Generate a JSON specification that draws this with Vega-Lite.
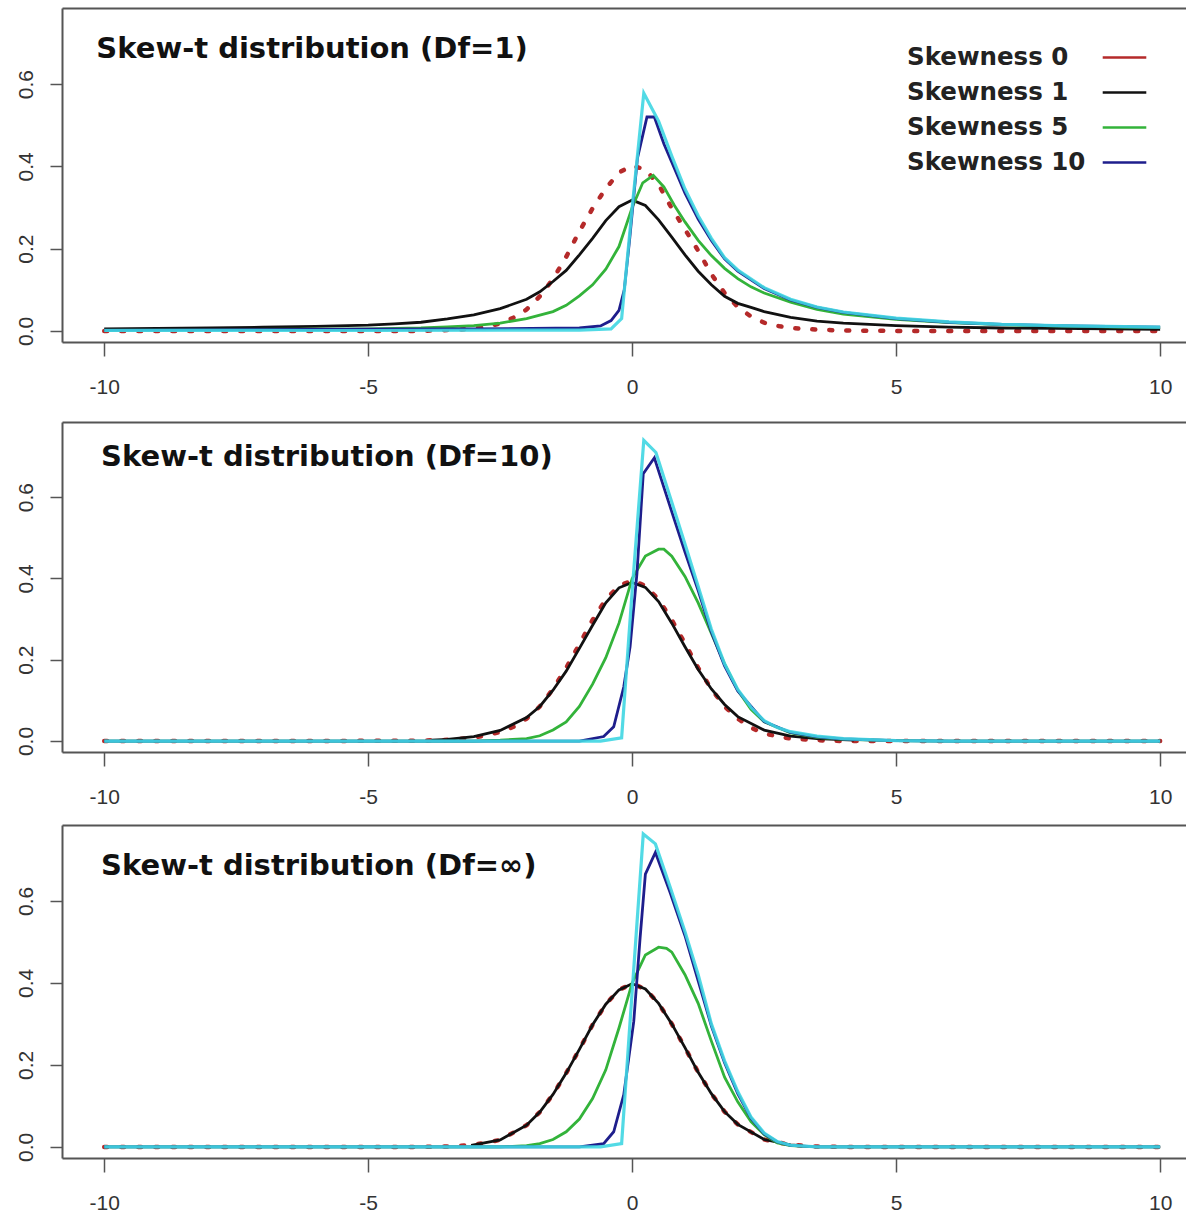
{
"$schema": "https://vega.github.io/schema/vega-lite/v6.json",
"background": "white",
"padding": {"left": 14, "top": 8, "right": 0, "bottom": 0},
"datasets": {
"p1": [
{"s":"Skewness 0","x":-10,"y":0},{"s":"Skewness 0","x":-8,"y":0},{"s":"Skewness 0","x":-6,"y":0},{"s":"Skewness 0","x":-4,"y":0},{"s":"Skewness 0","x":-3.25,"y":0.003},{"s":"Skewness 0","x":-2.75,"y":0.01},{"s":"Skewness 0","x":-2.5,"y":0.018},{"s":"Skewness 0","x":-2.25,"y":0.032},{"s":"Skewness 0","x":-2,"y":0.052},{"s":"Skewness 0","x":-1.75,"y":0.084},{"s":"Skewness 0","x":-1.5,"y":0.126},{"s":"Skewness 0","x":-1.25,"y":0.18},{"s":"Skewness 0","x":-1,"y":0.242},{"s":"Skewness 0","x":-0.75,"y":0.298},{"s":"Skewness 0","x":-0.5,"y":0.346},{"s":"Skewness 0","x":-0.25,"y":0.385},{"s":"Skewness 0","x":0,"y":0.402},{"s":"Skewness 0","x":0.25,"y":0.392},{"s":"Skewness 0","x":0.5,"y":0.356},{"s":"Skewness 0","x":0.75,"y":0.298},{"s":"Skewness 0","x":1,"y":0.247},{"s":"Skewness 0","x":1.25,"y":0.195},{"s":"Skewness 0","x":1.5,"y":0.138},{"s":"Skewness 0","x":1.75,"y":0.092},{"s":"Skewness 0","x":2,"y":0.058},{"s":"Skewness 0","x":2.25,"y":0.035},{"s":"Skewness 0","x":2.5,"y":0.02},{"s":"Skewness 0","x":2.75,"y":0.012},{"s":"Skewness 0","x":3,"y":0.007},{"s":"Skewness 0","x":3.5,"y":0.003},{"s":"Skewness 0","x":4,"y":0.001},{"s":"Skewness 0","x":5,"y":0},{"s":"Skewness 0","x":6,"y":0},{"s":"Skewness 0","x":8,"y":0},{"s":"Skewness 0","x":10,"y":0},
{"s":"Skewness 1","x":-10,"y":0.005},{"s":"Skewness 1","x":-9,"y":0.006},{"s":"Skewness 1","x":-8,"y":0.007},{"s":"Skewness 1","x":-7,"y":0.009},{"s":"Skewness 1","x":-6,"y":0.011},{"s":"Skewness 1","x":-5,"y":0.014},{"s":"Skewness 1","x":-4.5,"y":0.017},{"s":"Skewness 1","x":-4,"y":0.021},{"s":"Skewness 1","x":-3.5,"y":0.029},{"s":"Skewness 1","x":-3,"y":0.039},{"s":"Skewness 1","x":-2.5,"y":0.054},{"s":"Skewness 1","x":-2,"y":0.077},{"s":"Skewness 1","x":-1.75,"y":0.095},{"s":"Skewness 1","x":-1.5,"y":0.12},{"s":"Skewness 1","x":-1.25,"y":0.147},{"s":"Skewness 1","x":-1,"y":0.185},{"s":"Skewness 1","x":-0.75,"y":0.225},{"s":"Skewness 1","x":-0.5,"y":0.268},{"s":"Skewness 1","x":-0.25,"y":0.302},{"s":"Skewness 1","x":0,"y":0.318},{"s":"Skewness 1","x":0.25,"y":0.305},{"s":"Skewness 1","x":0.5,"y":0.27},{"s":"Skewness 1","x":0.75,"y":0.228},{"s":"Skewness 1","x":1,"y":0.185},{"s":"Skewness 1","x":1.25,"y":0.145},{"s":"Skewness 1","x":1.5,"y":0.112},{"s":"Skewness 1","x":1.75,"y":0.084},{"s":"Skewness 1","x":2,"y":0.067},{"s":"Skewness 1","x":2.25,"y":0.057},{"s":"Skewness 1","x":2.5,"y":0.047},{"s":"Skewness 1","x":3,"y":0.033},{"s":"Skewness 1","x":3.5,"y":0.024},{"s":"Skewness 1","x":4,"y":0.019},{"s":"Skewness 1","x":5,"y":0.013},{"s":"Skewness 1","x":6,"y":0.009},{"s":"Skewness 1","x":7,"y":0.007},{"s":"Skewness 1","x":8,"y":0.006},{"s":"Skewness 1","x":9,"y":0.005},{"s":"Skewness 1","x":10,"y":0.004},
{"s":"Skewness 5","x":-10,"y":0.002},{"s":"Skewness 5","x":-8,"y":0.003},{"s":"Skewness 5","x":-6,"y":0.004},{"s":"Skewness 5","x":-5,"y":0.005},{"s":"Skewness 5","x":-4,"y":0.007},{"s":"Skewness 5","x":-3.5,"y":0.01},{"s":"Skewness 5","x":-3,"y":0.013},{"s":"Skewness 5","x":-2.5,"y":0.019},{"s":"Skewness 5","x":-2,"y":0.03},{"s":"Skewness 5","x":-1.5,"y":0.047},{"s":"Skewness 5","x":-1.25,"y":0.062},{"s":"Skewness 5","x":-1,"y":0.085},{"s":"Skewness 5","x":-0.75,"y":0.112},{"s":"Skewness 5","x":-0.5,"y":0.15},{"s":"Skewness 5","x":-0.25,"y":0.205},{"s":"Skewness 5","x":0,"y":0.3},{"s":"Skewness 5","x":0.2,"y":0.36},{"s":"Skewness 5","x":0.4,"y":0.378},{"s":"Skewness 5","x":0.6,"y":0.35},{"s":"Skewness 5","x":0.8,"y":0.305},{"s":"Skewness 5","x":1,"y":0.265},{"s":"Skewness 5","x":1.25,"y":0.22},{"s":"Skewness 5","x":1.5,"y":0.183},{"s":"Skewness 5","x":1.75,"y":0.152},{"s":"Skewness 5","x":2,"y":0.127},{"s":"Skewness 5","x":2.25,"y":0.107},{"s":"Skewness 5","x":2.5,"y":0.092},{"s":"Skewness 5","x":3,"y":0.07},{"s":"Skewness 5","x":3.5,"y":0.052},{"s":"Skewness 5","x":4,"y":0.041},{"s":"Skewness 5","x":5,"y":0.028},{"s":"Skewness 5","x":6,"y":0.02},{"s":"Skewness 5","x":7,"y":0.015},{"s":"Skewness 5","x":8,"y":0.012},{"s":"Skewness 5","x":9,"y":0.01},{"s":"Skewness 5","x":10,"y":0.008},
{"s":"Skewness 10","x":-10,"y":0.002},{"s":"Skewness 10","x":-7,"y":0.003},{"s":"Skewness 10","x":-5,"y":0.004},{"s":"Skewness 10","x":-3,"y":0.005},{"s":"Skewness 10","x":-1,"y":0.007},{"s":"Skewness 10","x":-0.6,"y":0.012},{"s":"Skewness 10","x":-0.4,"y":0.025},{"s":"Skewness 10","x":-0.25,"y":0.05},{"s":"Skewness 10","x":-0.15,"y":0.1},{"s":"Skewness 10","x":-0.05,"y":0.22},{"s":"Skewness 10","x":0.1,"y":0.42},{"s":"Skewness 10","x":0.28,"y":0.52},{"s":"Skewness 10","x":0.42,"y":0.52},{"s":"Skewness 10","x":0.6,"y":0.455},{"s":"Skewness 10","x":0.75,"y":0.41},{"s":"Skewness 10","x":1,"y":0.335},{"s":"Skewness 10","x":1.25,"y":0.272},{"s":"Skewness 10","x":1.5,"y":0.22},{"s":"Skewness 10","x":1.75,"y":0.175},{"s":"Skewness 10","x":2,"y":0.145},{"s":"Skewness 10","x":2.5,"y":0.103},{"s":"Skewness 10","x":3,"y":0.075},{"s":"Skewness 10","x":3.5,"y":0.057},{"s":"Skewness 10","x":4,"y":0.045},{"s":"Skewness 10","x":5,"y":0.03},{"s":"Skewness 10","x":6,"y":0.021},{"s":"Skewness 10","x":7,"y":0.016},{"s":"Skewness 10","x":8,"y":0.013},{"s":"Skewness 10","x":9,"y":0.011},{"s":"Skewness 10","x":10,"y":0.009},
{"s":"unlabelled","x":-10,"y":0.001},{"s":"unlabelled","x":-5,"y":0.001},{"s":"unlabelled","x":-1,"y":0.002},{"s":"unlabelled","x":-0.4,"y":0.005},{"s":"unlabelled","x":-0.2,"y":0.03},{"s":"unlabelled","x":0,"y":0.3},{"s":"unlabelled","x":0.22,"y":0.578},{"s":"unlabelled","x":0.5,"y":0.51},{"s":"unlabelled","x":0.75,"y":0.425},{"s":"unlabelled","x":1,"y":0.345},{"s":"unlabelled","x":1.25,"y":0.28},{"s":"unlabelled","x":1.5,"y":0.225},{"s":"unlabelled","x":1.75,"y":0.178},{"s":"unlabelled","x":2,"y":0.148},{"s":"unlabelled","x":2.5,"y":0.105},{"s":"unlabelled","x":3,"y":0.077},{"s":"unlabelled","x":3.5,"y":0.058},{"s":"unlabelled","x":4,"y":0.046},{"s":"unlabelled","x":5,"y":0.031},{"s":"unlabelled","x":6,"y":0.022},{"s":"unlabelled","x":7,"y":0.016},{"s":"unlabelled","x":8,"y":0.013},{"s":"unlabelled","x":9,"y":0.011},{"s":"unlabelled","x":10,"y":0.009}
],
"p2": [
{"s":"Skewness 0","x":-10,"y":0},{"s":"Skewness 0","x":-8,"y":0},{"s":"Skewness 0","x":-6,"y":0},{"s":"Skewness 0","x":-4,"y":0.001},{"s":"Skewness 0","x":-3.5,"y":0.003},{"s":"Skewness 0","x":-3,"y":0.008},{"s":"Skewness 0","x":-2.5,"y":0.022},{"s":"Skewness 0","x":-2.25,"y":0.035},{"s":"Skewness 0","x":-2,"y":0.055},{"s":"Skewness 0","x":-1.75,"y":0.085},{"s":"Skewness 0","x":-1.5,"y":0.128},{"s":"Skewness 0","x":-1.25,"y":0.18},{"s":"Skewness 0","x":-1,"y":0.238},{"s":"Skewness 0","x":-0.75,"y":0.298},{"s":"Skewness 0","x":-0.5,"y":0.348},{"s":"Skewness 0","x":-0.25,"y":0.382},{"s":"Skewness 0","x":0,"y":0.395},{"s":"Skewness 0","x":0.25,"y":0.382},{"s":"Skewness 0","x":0.5,"y":0.348},{"s":"Skewness 0","x":0.75,"y":0.298},{"s":"Skewness 0","x":1,"y":0.24},{"s":"Skewness 0","x":1.25,"y":0.18},{"s":"Skewness 0","x":1.5,"y":0.128},{"s":"Skewness 0","x":1.75,"y":0.085},{"s":"Skewness 0","x":2,"y":0.055},{"s":"Skewness 0","x":2.25,"y":0.033},{"s":"Skewness 0","x":2.5,"y":0.018},{"s":"Skewness 0","x":3,"y":0.006},{"s":"Skewness 0","x":3.5,"y":0.002},{"s":"Skewness 0","x":4,"y":0},{"s":"Skewness 0","x":6,"y":0},{"s":"Skewness 0","x":8,"y":0},{"s":"Skewness 0","x":10,"y":0},
{"s":"Skewness 1","x":-3.8,"y":0.002},{"s":"Skewness 1","x":-3.5,"y":0.004},{"s":"Skewness 1","x":-3,"y":0.011},{"s":"Skewness 1","x":-2.5,"y":0.026},{"s":"Skewness 1","x":-2,"y":0.058},{"s":"Skewness 1","x":-1.75,"y":0.085},{"s":"Skewness 1","x":-1.5,"y":0.125},{"s":"Skewness 1","x":-1.25,"y":0.172},{"s":"Skewness 1","x":-1,"y":0.228},{"s":"Skewness 1","x":-0.75,"y":0.285},{"s":"Skewness 1","x":-0.5,"y":0.34},{"s":"Skewness 1","x":-0.25,"y":0.377},{"s":"Skewness 1","x":0,"y":0.39},{"s":"Skewness 1","x":0.25,"y":0.378},{"s":"Skewness 1","x":0.5,"y":0.343},{"s":"Skewness 1","x":0.75,"y":0.29},{"s":"Skewness 1","x":1,"y":0.232},{"s":"Skewness 1","x":1.25,"y":0.176},{"s":"Skewness 1","x":1.5,"y":0.128},{"s":"Skewness 1","x":1.75,"y":0.09},{"s":"Skewness 1","x":2,"y":0.06},{"s":"Skewness 1","x":2.5,"y":0.027},{"s":"Skewness 1","x":3,"y":0.012},{"s":"Skewness 1","x":3.5,"y":0.006},{"s":"Skewness 1","x":4.2,"y":0.002},
{"s":"Skewness 5","x":-10,"y":0},{"s":"Skewness 5","x":-6,"y":0},{"s":"Skewness 5","x":-3,"y":0},{"s":"Skewness 5","x":-2.5,"y":0.002},{"s":"Skewness 5","x":-2,"y":0.006},{"s":"Skewness 5","x":-1.75,"y":0.013},{"s":"Skewness 5","x":-1.5,"y":0.027},{"s":"Skewness 5","x":-1.25,"y":0.047},{"s":"Skewness 5","x":-1,"y":0.085},{"s":"Skewness 5","x":-0.75,"y":0.14},{"s":"Skewness 5","x":-0.5,"y":0.205},{"s":"Skewness 5","x":-0.25,"y":0.29},{"s":"Skewness 5","x":0,"y":0.4},{"s":"Skewness 5","x":0.25,"y":0.455},{"s":"Skewness 5","x":0.5,"y":0.472},{"s":"Skewness 5","x":0.6,"y":0.472},{"s":"Skewness 5","x":0.75,"y":0.455},{"s":"Skewness 5","x":1,"y":0.405},{"s":"Skewness 5","x":1.25,"y":0.34},{"s":"Skewness 5","x":1.5,"y":0.265},{"s":"Skewness 5","x":1.75,"y":0.19},{"s":"Skewness 5","x":2,"y":0.125},{"s":"Skewness 5","x":2.25,"y":0.078},{"s":"Skewness 5","x":2.5,"y":0.047},{"s":"Skewness 5","x":3,"y":0.02},{"s":"Skewness 5","x":3.5,"y":0.009},{"s":"Skewness 5","x":4,"y":0.004},{"s":"Skewness 5","x":5,"y":0.001},{"s":"Skewness 5","x":6,"y":0},{"s":"Skewness 5","x":10,"y":0},
{"s":"Skewness 10","x":-10,"y":0},{"s":"Skewness 10","x":-5,"y":0},{"s":"Skewness 10","x":-1,"y":0},{"s":"Skewness 10","x":-0.54,"y":0.011},{"s":"Skewness 10","x":-0.35,"y":0.035},{"s":"Skewness 10","x":-0.16,"y":0.133},{"s":"Skewness 10","x":-0.04,"y":0.232},{"s":"Skewness 10","x":0.09,"y":0.412},{"s":"Skewness 10","x":0.21,"y":0.658},{"s":"Skewness 10","x":0.42,"y":0.697},{"s":"Skewness 10","x":0.72,"y":0.576},{"s":"Skewness 10","x":1,"y":0.465},{"s":"Skewness 10","x":1.25,"y":0.37},{"s":"Skewness 10","x":1.5,"y":0.268},{"s":"Skewness 10","x":1.75,"y":0.185},{"s":"Skewness 10","x":2,"y":0.123},{"s":"Skewness 10","x":2.5,"y":0.048},{"s":"Skewness 10","x":3,"y":0.021},{"s":"Skewness 10","x":3.5,"y":0.01},{"s":"Skewness 10","x":4,"y":0.005},{"s":"Skewness 10","x":5,"y":0.001},{"s":"Skewness 10","x":6,"y":0},{"s":"Skewness 10","x":10,"y":0},
{"s":"unlabelled","x":-10,"y":0},{"s":"unlabelled","x":-5,"y":0},{"s":"unlabelled","x":-0.6,"y":0},{"s":"unlabelled","x":-0.2,"y":0.008},{"s":"unlabelled","x":0,"y":0.37},{"s":"unlabelled","x":0.22,"y":0.74},{"s":"unlabelled","x":0.45,"y":0.71},{"s":"unlabelled","x":0.72,"y":0.6},{"s":"unlabelled","x":1,"y":0.485},{"s":"unlabelled","x":1.25,"y":0.38},{"s":"unlabelled","x":1.5,"y":0.275},{"s":"unlabelled","x":1.75,"y":0.19},{"s":"unlabelled","x":2,"y":0.127},{"s":"unlabelled","x":2.25,"y":0.083},{"s":"unlabelled","x":2.5,"y":0.05},{"s":"unlabelled","x":2.75,"y":0.033},{"s":"unlabelled","x":3,"y":0.023},{"s":"unlabelled","x":3.5,"y":0.012},{"s":"unlabelled","x":4,"y":0.006},{"s":"unlabelled","x":5,"y":0.001},{"s":"unlabelled","x":6,"y":0},{"s":"unlabelled","x":10,"y":0}
],
"p3": [
{"s":"Skewness 0","x":-10,"y":0},{"s":"Skewness 0","x":-8,"y":0},{"s":"Skewness 0","x":-6,"y":0},{"s":"Skewness 0","x":-4,"y":0},{"s":"Skewness 0","x":-3.5,"y":0.001},{"s":"Skewness 0","x":-3,"y":0.005},{"s":"Skewness 0","x":-2.5,"y":0.017},{"s":"Skewness 0","x":-2,"y":0.053},{"s":"Skewness 0","x":-1.75,"y":0.085},{"s":"Skewness 0","x":-1.5,"y":0.128},{"s":"Skewness 0","x":-1.25,"y":0.18},{"s":"Skewness 0","x":-1,"y":0.238},{"s":"Skewness 0","x":-0.75,"y":0.298},{"s":"Skewness 0","x":-0.5,"y":0.348},{"s":"Skewness 0","x":-0.25,"y":0.383},{"s":"Skewness 0","x":0,"y":0.398},{"s":"Skewness 0","x":0.25,"y":0.385},{"s":"Skewness 0","x":0.5,"y":0.35},{"s":"Skewness 0","x":0.75,"y":0.3},{"s":"Skewness 0","x":1,"y":0.242},{"s":"Skewness 0","x":1.25,"y":0.182},{"s":"Skewness 0","x":1.5,"y":0.13},{"s":"Skewness 0","x":1.75,"y":0.086},{"s":"Skewness 0","x":2,"y":0.055},{"s":"Skewness 0","x":2.5,"y":0.018},{"s":"Skewness 0","x":3,"y":0.005},{"s":"Skewness 0","x":3.5,"y":0.001},{"s":"Skewness 0","x":4,"y":0},{"s":"Skewness 0","x":6,"y":0},{"s":"Skewness 0","x":8,"y":0},{"s":"Skewness 0","x":10,"y":0},
{"s":"Skewness 1","x":-3.05,"y":0.004},{"s":"Skewness 1","x":-2.5,"y":0.017},{"s":"Skewness 1","x":-2,"y":0.053},{"s":"Skewness 1","x":-1.75,"y":0.085},{"s":"Skewness 1","x":-1.5,"y":0.128},{"s":"Skewness 1","x":-1.25,"y":0.18},{"s":"Skewness 1","x":-1,"y":0.238},{"s":"Skewness 1","x":-0.75,"y":0.298},{"s":"Skewness 1","x":-0.5,"y":0.348},{"s":"Skewness 1","x":-0.25,"y":0.383},{"s":"Skewness 1","x":0,"y":0.398},{"s":"Skewness 1","x":0.25,"y":0.385},{"s":"Skewness 1","x":0.5,"y":0.35},{"s":"Skewness 1","x":0.75,"y":0.3},{"s":"Skewness 1","x":1,"y":0.242},{"s":"Skewness 1","x":1.25,"y":0.182},{"s":"Skewness 1","x":1.5,"y":0.13},{"s":"Skewness 1","x":1.75,"y":0.086},{"s":"Skewness 1","x":2,"y":0.055},{"s":"Skewness 1","x":2.5,"y":0.018},{"s":"Skewness 1","x":3,"y":0.005},{"s":"Skewness 1","x":3.2,"y":0.003},
{"s":"Skewness 5","x":-10,"y":0},{"s":"Skewness 5","x":-5,"y":0},{"s":"Skewness 5","x":-2.5,"y":0},{"s":"Skewness 5","x":-2,"y":0.003},{"s":"Skewness 5","x":-1.75,"y":0.008},{"s":"Skewness 5","x":-1.5,"y":0.018},{"s":"Skewness 5","x":-1.25,"y":0.037},{"s":"Skewness 5","x":-1,"y":0.068},{"s":"Skewness 5","x":-0.75,"y":0.118},{"s":"Skewness 5","x":-0.5,"y":0.188},{"s":"Skewness 5","x":-0.25,"y":0.29},{"s":"Skewness 5","x":0,"y":0.4},{"s":"Skewness 5","x":0.25,"y":0.468},{"s":"Skewness 5","x":0.5,"y":0.487},{"s":"Skewness 5","x":0.65,"y":0.484},{"s":"Skewness 5","x":0.75,"y":0.475},{"s":"Skewness 5","x":1,"y":0.42},{"s":"Skewness 5","x":1.25,"y":0.35},{"s":"Skewness 5","x":1.5,"y":0.258},{"s":"Skewness 5","x":1.75,"y":0.17},{"s":"Skewness 5","x":2,"y":0.11},{"s":"Skewness 5","x":2.25,"y":0.062},{"s":"Skewness 5","x":2.5,"y":0.03},{"s":"Skewness 5","x":2.75,"y":0.01},{"s":"Skewness 5","x":3,"y":0.003},{"s":"Skewness 5","x":3.5,"y":0},{"s":"Skewness 5","x":5,"y":0},{"s":"Skewness 5","x":10,"y":0},
{"s":"Skewness 10","x":-10,"y":0},{"s":"Skewness 10","x":-5,"y":0},{"s":"Skewness 10","x":-1,"y":0},{"s":"Skewness 10","x":-0.54,"y":0.008},{"s":"Skewness 10","x":-0.35,"y":0.037},{"s":"Skewness 10","x":-0.16,"y":0.127},{"s":"Skewness 10","x":0.03,"y":0.306},{"s":"Skewness 10","x":0.15,"y":0.51},{"s":"Skewness 10","x":0.25,"y":0.665},{"s":"Skewness 10","x":0.44,"y":0.718},{"s":"Skewness 10","x":0.72,"y":0.62},{"s":"Skewness 10","x":1,"y":0.515},{"s":"Skewness 10","x":1.25,"y":0.405},{"s":"Skewness 10","x":1.5,"y":0.295},{"s":"Skewness 10","x":1.75,"y":0.205},{"s":"Skewness 10","x":2,"y":0.13},{"s":"Skewness 10","x":2.25,"y":0.07},{"s":"Skewness 10","x":2.5,"y":0.032},{"s":"Skewness 10","x":2.75,"y":0.012},{"s":"Skewness 10","x":3,"y":0.004},{"s":"Skewness 10","x":3.5,"y":0},{"s":"Skewness 10","x":5,"y":0},{"s":"Skewness 10","x":10,"y":0},
{"s":"unlabelled","x":-10,"y":0},{"s":"unlabelled","x":-5,"y":0},{"s":"unlabelled","x":-0.6,"y":0},{"s":"unlabelled","x":-0.2,"y":0.008},{"s":"unlabelled","x":0,"y":0.38},{"s":"unlabelled","x":0.21,"y":0.763},{"s":"unlabelled","x":0.44,"y":0.739},{"s":"unlabelled","x":0.72,"y":0.633},{"s":"unlabelled","x":1,"y":0.525},{"s":"unlabelled","x":1.25,"y":0.42},{"s":"unlabelled","x":1.5,"y":0.3},{"s":"unlabelled","x":1.75,"y":0.21},{"s":"unlabelled","x":2,"y":0.135},{"s":"unlabelled","x":2.25,"y":0.073},{"s":"unlabelled","x":2.5,"y":0.034},{"s":"unlabelled","x":2.75,"y":0.013},{"s":"unlabelled","x":3,"y":0.004},{"s":"unlabelled","x":3.5,"y":0},{"s":"unlabelled","x":5,"y":0},{"s":"unlabelled","x":10,"y":0}
]
},
"spacing": 80,
"bounds": "flush",
"vconcat": [
{
"width": 1124, "height": 334,
"data": {"name": "p1"},
"resolve": {"axis": {"x": "independent"}},
"layer": [
{"transform": [{"filter": "datum.s === 'Skewness 0'"}], "mark": {"type": "line", "strokeDash": [3, 14], "strokeCap": "round", "strokeWidth": 4.5},
 "encoding": {"x": {"field": "x", "type": "quantitative", "scale": {"domain": [-10.8, 10.49], "nice": false, "zero": false}, "axis": {"orient": "top"}},
  "y": {"field": "y", "type": "quantitative", "scale": {"domain": [-0.027, 0.785], "nice": false, "zero": false}, "axis": {"values": [0, 0.2, 0.4, 0.6], "format": ".1f"}},
  "color": {"field": "s", "type": "nominal", "scale": {"domain": ["Skewness 0", "Skewness 1", "Skewness 5", "Skewness 10"], "range": ["#b52a2a", "#111111", "#33b33a", "#1e1e8c"]}, "legend": {"orient": "none", "legendX": 1039, "legendY": 26}}}},
{"transform": [{"filter": "datum.s === 'Skewness 1'"}], "mark": {"type": "line", "strokeWidth": 2.8},
 "encoding": {"x": {"field": "x", "type": "quantitative", "axis": {"values": [-10, -5, 0, 5, 10], "labelExpr": "'' + datum.value"}}, "y": {"field": "y", "type": "quantitative"}, "color": {"field": "s", "type": "nominal"}}},
{"transform": [{"filter": "datum.s === 'Skewness 5'"}], "mark": {"type": "line", "strokeWidth": 2.8},
 "encoding": {"x": {"field": "x", "type": "quantitative", "axis": null}, "y": {"field": "y", "type": "quantitative"}, "color": {"field": "s", "type": "nominal"}}},
{"transform": [{"filter": "datum.s === 'Skewness 10'"}], "mark": {"type": "line", "strokeWidth": 2.8},
 "encoding": {"x": {"field": "x", "type": "quantitative", "axis": null}, "y": {"field": "y", "type": "quantitative"}, "color": {"field": "s", "type": "nominal"}}},
{"transform": [{"filter": "datum.s === 'unlabelled'"}], "mark": {"type": "line", "strokeWidth": 3.2, "color": "#3fd6e2", "strokeOpacity": 0.9},
 "encoding": {"x": {"field": "x", "type": "quantitative", "axis": null}, "y": {"field": "y", "type": "quantitative"}}},
{"data": {"values": [{"t": "Skew-t distribution (Df=1)"}]}, "mark": {"type": "text", "font": "DejaVu Sans", "fontWeight": "bold", "fontSize": 29, "align": "left", "baseline": "middle", "color": "#111111"},
 "encoding": {"x": {"datum": -10.15, "type": "quantitative", "axis": null}, "y": {"datum": 0.685, "type": "quantitative"}, "text": {"field": "t"}}}
]
},
{
"spacing": 73,
"bounds": "flush",
"vconcat": [
{
"width": 1124, "height": 330,
"data": {"name": "p2"},
"resolve": {"axis": {"x": "independent"}},
"layer": [
{"transform": [{"filter": "datum.s === 'Skewness 0'"}], "mark": {"type": "line", "strokeDash": [3, 14], "strokeCap": "round", "strokeWidth": 4.5},
 "encoding": {"x": {"field": "x", "type": "quantitative", "scale": {"domain": [-10.8, 10.49], "nice": false, "zero": false}, "axis": {"orient": "top"}},
  "y": {"field": "y", "type": "quantitative", "scale": {"domain": [-0.027, 0.785], "nice": false, "zero": false}, "axis": {"values": [0, 0.2, 0.4, 0.6], "format": ".1f"}},
  "color": {"field": "s", "type": "nominal", "legend": null}}},
{"transform": [{"filter": "datum.s === 'Skewness 1'"}], "mark": {"type": "line", "strokeWidth": 2.8},
 "encoding": {"x": {"field": "x", "type": "quantitative", "axis": {"values": [-10, -5, 0, 5, 10], "labelExpr": "'' + datum.value"}}, "y": {"field": "y", "type": "quantitative"}, "color": {"field": "s", "type": "nominal", "legend": null}}},
{"transform": [{"filter": "datum.s === 'Skewness 5'"}], "mark": {"type": "line", "strokeWidth": 2.8},
 "encoding": {"x": {"field": "x", "type": "quantitative", "axis": null}, "y": {"field": "y", "type": "quantitative"}, "color": {"field": "s", "type": "nominal", "legend": null}}},
{"transform": [{"filter": "datum.s === 'Skewness 10'"}], "mark": {"type": "line", "strokeWidth": 2.8},
 "encoding": {"x": {"field": "x", "type": "quantitative", "axis": null}, "y": {"field": "y", "type": "quantitative"}, "color": {"field": "s", "type": "nominal", "legend": null}}},
{"transform": [{"filter": "datum.s === 'unlabelled'"}], "mark": {"type": "line", "strokeWidth": 3.2, "color": "#3fd6e2", "strokeOpacity": 0.9},
 "encoding": {"x": {"field": "x", "type": "quantitative", "axis": null}, "y": {"field": "y", "type": "quantitative"}}},
{"data": {"values": [{"t": "Skew-t distribution (Df=10)"}]}, "mark": {"type": "text", "font": "DejaVu Sans", "fontWeight": "bold", "fontSize": 29, "align": "left", "baseline": "middle", "color": "#111111"},
 "encoding": {"x": {"datum": -10.06, "type": "quantitative", "axis": null}, "y": {"datum": 0.698, "type": "quantitative"}, "text": {"field": "t"}}}
]
},
{
"width": 1124, "height": 333,
"data": {"name": "p3"},
"resolve": {"axis": {"x": "independent"}},
"layer": [
{"transform": [{"filter": "datum.s === 'Skewness 0'"}], "mark": {"type": "line", "strokeDash": [3, 14], "strokeCap": "round", "strokeWidth": 4.5},
 "encoding": {"x": {"field": "x", "type": "quantitative", "scale": {"domain": [-10.8, 10.49], "nice": false, "zero": false}, "axis": {"orient": "top"}},
  "y": {"field": "y", "type": "quantitative", "scale": {"domain": [-0.027, 0.785], "nice": false, "zero": false}, "axis": {"values": [0, 0.2, 0.4, 0.6], "format": ".1f"}},
  "color": {"field": "s", "type": "nominal", "legend": null}}},
{"transform": [{"filter": "datum.s === 'Skewness 1'"}], "mark": {"type": "line", "strokeWidth": 2.8},
 "encoding": {"x": {"field": "x", "type": "quantitative", "axis": {"values": [-10, -5, 0, 5, 10], "labelExpr": "'' + datum.value"}}, "y": {"field": "y", "type": "quantitative"}, "color": {"field": "s", "type": "nominal", "legend": null}}},
{"transform": [{"filter": "datum.s === 'Skewness 5'"}], "mark": {"type": "line", "strokeWidth": 2.8},
 "encoding": {"x": {"field": "x", "type": "quantitative", "axis": null}, "y": {"field": "y", "type": "quantitative"}, "color": {"field": "s", "type": "nominal", "legend": null}}},
{"transform": [{"filter": "datum.s === 'Skewness 10'"}], "mark": {"type": "line", "strokeWidth": 2.8},
 "encoding": {"x": {"field": "x", "type": "quantitative", "axis": null}, "y": {"field": "y", "type": "quantitative"}, "color": {"field": "s", "type": "nominal", "legend": null}}},
{"transform": [{"filter": "datum.s === 'unlabelled'"}], "mark": {"type": "line", "strokeWidth": 3.2, "color": "#3fd6e2", "strokeOpacity": 0.9},
 "encoding": {"x": {"field": "x", "type": "quantitative", "axis": null}, "y": {"field": "y", "type": "quantitative"}}},
{"data": {"values": [{"t": "Skew-t distribution (Df=∞)"}]}, "mark": {"type": "text", "font": "DejaVu Sans", "fontWeight": "bold", "fontSize": 29, "align": "left", "baseline": "middle", "color": "#111111"},
 "encoding": {"x": {"datum": -10.06, "type": "quantitative", "axis": null}, "y": {"datum": 0.685, "type": "quantitative"}, "text": {"field": "t"}}}
]
}
]
}
],
"config": {
"view": {"stroke": null},
"axis": {"domainColor": "#555555", "domainWidth": 2, "tickColor": "#555555", "tickWidth": 1.5, "labelColor": "#333333", "labelFont": "Liberation Sans", "labelFontSize": 21, "grid": false, "title": null},
"axisBottom": {"tickSize": 14, "labelPadding": 31, "labelBaseline": "middle", "labelFlush": false},
"axisLeft": {"tickSize": 12, "labelAngle": -90, "labelAlign": "center", "labelBaseline": "middle", "labelPadding": 24},
"axisTop": {"ticks": false, "labels": false},
"legend": {"title": null, "symbolType": "stroke", "symbolSize": 1900, "symbolStrokeWidth": 2.5, "labelFont": "DejaVu Sans", "labelFontWeight": "bold", "labelFontSize": 24.5, "labelColor": "#222222", "labelAlign": "left", "labelOffset": -241, "labelLimit": 400, "padding": 0, "rowPadding": -2}
}
}
